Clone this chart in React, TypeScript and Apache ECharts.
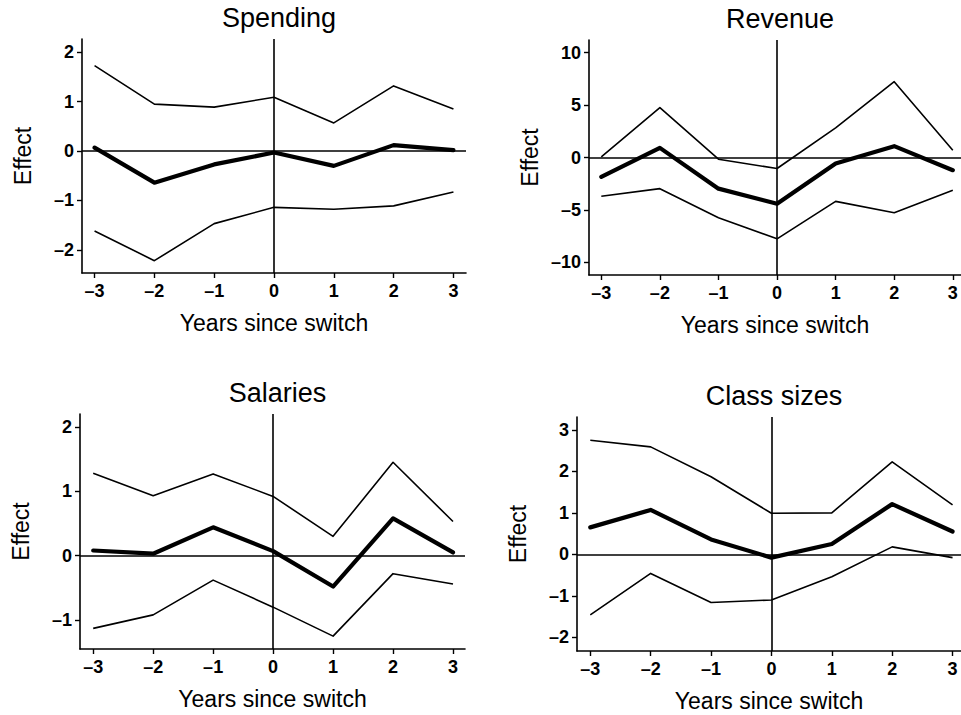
import React, { useEffect, useRef } from "react";
import * as echarts from "echarts";

// Event-time axis (years relative to the switch)
const years = [-3, -2, -1, 0, 1, 2, 3];
const yearTicks = [-3, -2, -1, 0, 1, 2, 3];

// Spending: point estimate with upper / lower confidence bounds
const spendingEst = [0.07, -0.64, -0.27, -0.03, -0.3, 0.12, 0.02];
const spendingUpper = [1.73, 0.95, 0.89, 1.09, 0.57, 1.32, 0.85];
const spendingLower = [-1.62, -2.22, -1.47, -1.14, -1.18, -1.11, -0.83];
const spendingTicks = [-2, -1, 0, 1, 2];

// Revenue
const revenueEst = [-1.85, 0.92, -2.97, -4.4, -0.57, 1.08, -1.21];
const revenueUpper = [0.05, 4.75, -0.16, -1.05, 2.83, 7.23, 0.7];
const revenueLower = [-3.7, -2.97, -5.74, -7.75, -4.18, -5.26, -3.13];
const revenueTicks = [-10, -5, 0, 5, 10];

// Salaries
const salariesEst = [0.08, 0.03, 0.44, 0.07, -0.48, 0.58, 0.05];
const salariesUpper = [1.28, 0.93, 1.27, 0.92, 0.3, 1.45, 0.53];
const salariesLower = [-1.13, -0.92, -0.38, -0.8, -1.25, -0.28, -0.44];
const salariesTicks = [-1, 0, 1, 2];

// Class sizes
const classEst = [0.65, 1.07, 0.36, -0.08, 0.25, 1.21, 0.55];
const classUpper = [2.75, 2.59, 1.87, 0.99, 1.0, 2.23, 1.19];
const classLower = [-1.46, -0.46, -1.16, -1.1, -0.54, 0.18, -0.08];
const classTicks = [-2, -1, 0, 1, 2, 3];

const FONT = "'Liberation Sans', Arial, Helvetica, sans-serif";

type Panel = {
  title: string;
  est: number[];
  upper: number[];
  lower: number[];
  yTicks: number[];
  yMin: number;
  yMax: number;
  xMin: number;
  xMax: number;
  grid: { left: number; top: number; width: number; height: number };
};

const panels: Panel[] = [
  {
    title: "Spending",
    est: spendingEst,
    upper: spendingUpper,
    lower: spendingLower,
    yTicks: spendingTicks,
    yMin: -2.47,
    yMax: 2.27,
    xMin: -3.21,
    xMax: 3.21,
    grid: { left: 82, top: 39, width: 384, height: 234 },
  },
  {
    title: "Revenue",
    est: revenueEst,
    upper: revenueUpper,
    lower: revenueLower,
    yTicks: revenueTicks,
    yMin: -11.2,
    yMax: 11.2,
    xMin: -3.21,
    xMax: 3.14,
    grid: { left: 589, top: 40, width: 372, height: 235 },
  },
  {
    title: "Salaries",
    est: salariesEst,
    upper: salariesUpper,
    lower: salariesLower,
    yTicks: salariesTicks,
    yMin: -1.45,
    yMax: 2.2,
    xMin: -3.22,
    xMax: 3.2,
    grid: { left: 80, top: 414, width: 385, height: 235 },
  },
  {
    title: "Class sizes",
    est: classEst,
    upper: classUpper,
    lower: classLower,
    yTicks: classTicks,
    yMin: -2.33,
    yMax: 3.31,
    xMin: -3.22,
    xMax: 3.14,
    grid: { left: 577, top: 417, width: 384, height: 234 },
  },
];

const dash = (v: number) => (v < 0 ? "\u2013" + Math.abs(v) : String(v));

function buildOption() {
  const axisLine = { show: true, onZero: false, lineStyle: { color: "#000", width: 1.6 } };
  const axisTickBase = { show: true, length: 5, lineStyle: { color: "#000", width: 1.4 } };
  const labelStyle = {
    color: "#000",
    fontFamily: FONT,
    fontSize: 18,
    fontWeight: "bold" as const,
    formatter: (v: number) => dash(v),
  };

  const toPts = (arr: number[]) => years.map((x, i) => [x, arr[i]]);

  const series: any[] = [];
  panels.forEach((p, k) => {
    const common = {
      type: "line",
      xAxisIndex: k,
      yAxisIndex: k,
      symbol: "none",
      showSymbol: false,
      silent: true,
    };
    series.push({
      ...common,
      name: p.title + " upper",
      data: toPts(p.upper),
      lineStyle: { color: "#000", width: 1.6, join: "round" },
    });
    series.push({
      ...common,
      name: p.title + " lower",
      data: toPts(p.lower),
      lineStyle: { color: "#000", width: 1.6, join: "round" },
    });
    series.push({
      ...common,
      name: p.title,
      data: toPts(p.est),
      lineStyle: { color: "#000", width: 4.2, join: "round", cap: "round" },
      markLine: {
        silent: true,
        symbol: "none",
        label: { show: false },
        lineStyle: { color: "#000", width: 1.6, type: "solid" },
        data: [{ yAxis: 0 }, { xAxis: 0 }],
      },
    });
  });

  return {
    animation: false,
    backgroundColor: "#fff",
    title: panels.map((p) => ({
      text: p.title,
      left: p.grid.left + p.grid.width / 2,
      top: p.grid.top - 40,
      textAlign: "center",
      textStyle: { fontFamily: FONT, fontSize: 27, fontWeight: "normal", color: "#000" },
    })),
    grid: panels.map((p) => ({ ...p.grid, containLabel: false })),
    xAxis: panels.map((p, k) => ({
      type: "value",
      gridIndex: k,
      min: p.xMin,
      max: p.xMax,
      name: "Years since switch",
      nameLocation: "middle",
      nameGap: 38,
      nameTextStyle: { fontFamily: FONT, fontSize: 23, color: "#000" },
      axisLine,
      axisTick: { ...axisTickBase, customValues: yearTicks },
      axisLabel: { ...labelStyle, margin: 9, customValues: yearTicks },
      splitLine: { show: false },
    })),
    yAxis: panels.map((p, k) => ({
      type: "value",
      gridIndex: k,
      min: p.yMin,
      max: p.yMax,
      name: "Effect",
      nameLocation: "middle",
      nameGap: 48,
      nameTextStyle: { fontFamily: FONT, fontSize: 23, color: "#000" },
      axisLine,
      axisTick: { ...axisTickBase, customValues: p.yTicks },
      axisLabel: { ...labelStyle, margin: 8, customValues: p.yTicks },
      splitLine: { show: false },
    })),
    series,
  };
}

export default function App() {
  const ref = useRef<HTMLDivElement>(null);
  useEffect(() => {
    if (!ref.current) return;
    const chart = echarts.init(ref.current, undefined, { renderer: "svg" });
    chart.setOption(buildOption() as any);
    return () => chart.dispose();
  }, []);
  return (
    <div
      ref={ref}
      style={{ position: "fixed", left: 0, top: 0, width: 961, height: 715, background: "#fff" }}
    />
  );
}
